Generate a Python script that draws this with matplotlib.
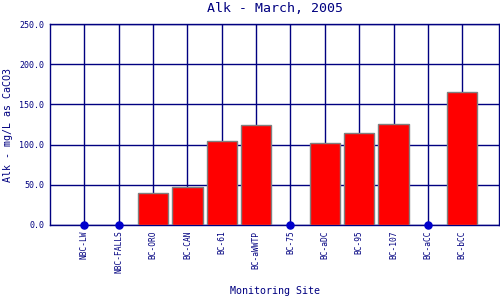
import matplotlib
matplotlib.use("Agg")
import matplotlib.pyplot as plt
import numpy as np

sites = ["NBC-LW", "NBC-FALLS", "BC-ORO", "BC-CAN", "BC-61", "BC-aWWTP",
         "BC-75", "BC-aDC", "BC-95", "BC-107", "BC-aCC", "BC-bCC"]
alk = [0.0, 0.0, 40.2, 46.9, 104.5, 124.4, 0.0, 101.6, 114.0, 125.2, 0.0, 165.0]

navy = "#000080"
plt.rcParams["font.family"] = ["DejaVu Sans Mono"]

fig = plt.figure(figsize=(5, 3), dpi=100)
ax = fig.add_axes([0.1, 0.25, 0.898, 0.67])

x = np.arange(len(sites))
vals = np.array(alk)
has = vals > 0
ax.bar(x[has], vals[has], width=0.88, color="#ff0000", edgecolor="#808080",
       linewidth=1, zorder=3)
ax.scatter(x[~has], vals[~has], s=26, color="#0000cc", zorder=4, clip_on=False)

ax.set_xlim(-1, 12.07)
ax.set_ylim(0, 250)
ax.set_yticks(np.arange(0, 251, 50))
ax.set_yticklabels([f"{v:.1f}" for v in np.arange(0, 251, 50)], fontsize=6,
                   color=navy)
ax.set_xticks(x)
ax.set_xticklabels(sites, rotation=90, fontsize=5.7, color=navy)
ax.tick_params(length=0, pad=4)
ax.grid(True, color=navy, linewidth=1, zorder=1)
ax.set_axisbelow(True)
for s in ax.spines.values():
    s.set_color(navy)
    s.set_linewidth(1)

fig.text(0.55, 1 - 9 / 300, "Alk - March, 2005", fontsize=9.5, color=navy,
         ha="center", va="center")
ax.set_ylabel("Alk - mg/L as CaCO3", fontsize=7.2, color=navy)
ax.yaxis.set_label_coords((13 - 50) / 449, 0.5)
ax.set_xlabel("Monitoring Site", fontsize=7.2, color=navy)
ax.xaxis.set_label_coords(0.5, -(286 - 225) / 201)

fig.savefig("out.png", dpi=100)
